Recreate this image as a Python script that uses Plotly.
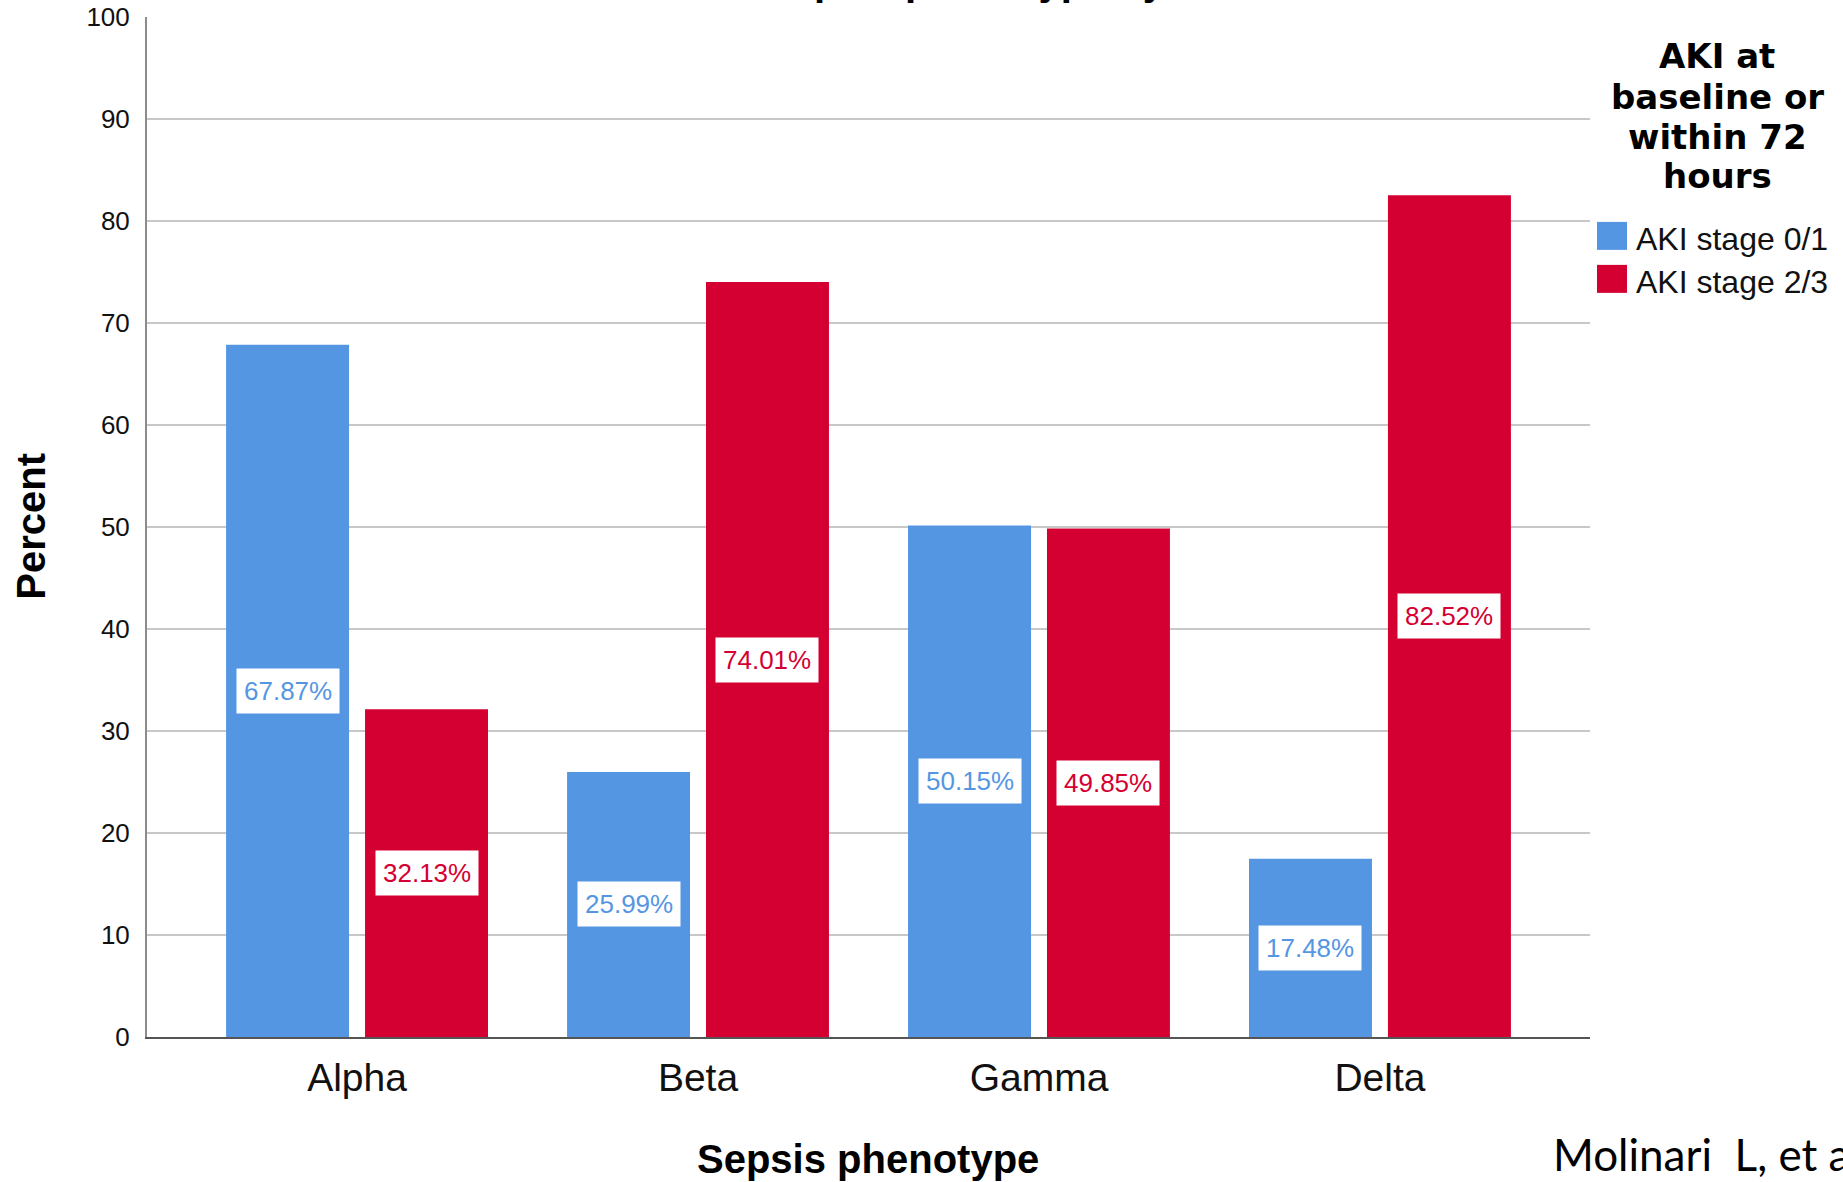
import plotly.graph_objects as go

# ---------------- data ----------------
categories = ["Alpha", "Beta", "Gamma", "Delta"]
series_names = ["AKI stage 0/1", "AKI stage 2/3"]
aki_stage_01 = [67.87, 25.99, 50.15, 17.48]
aki_stage_23 = [32.13, 74.01, 49.85, 82.52]
y_tick_values = [0, 10, 20, 30, 40, 50, 60, 70, 80, 90, 100]
legend_title_lines = ["AKI at", "baseline or", "within 72", "hours"]
x_title = "Sepsis phenotype"
y_title = "Percent"
chart_title = "Sepsis phenotype by AKI at baseline or within 72 hours"
citation = "Molinari\u00a0 L, et al."

# ---------------- style ----------------
COLORS = ["#5596E3", "#D50032"]
ARIAL = "Arial, Liberation Sans, sans-serif"
DEJAVU = "DejaVu Sans, sans-serif"
W, H = 1843, 1182
L, R, T, B = 147, 1590, 17, 1037.5
BARGAP, GROUPGAP = 0.185, 0.115
X_PAD = 0.616


def px(x):
    return (x - L) / (R - L)


def py(y):
    return (B - y) / (B - T)


series = [aki_stage_01, aki_stage_23]

fig = go.Figure()
for name, vals, col in zip(series_names, series, COLORS):
    fig.add_trace(go.Bar(
        x=categories, y=vals, name=name,
        marker=dict(color=col, line=dict(width=0)),
        showlegend=False,
        hovertemplate="%{x}: %{y:.2f}%<extra>" + name + "</extra>",
    ))

annotations = []
slot = (1 - BARGAP) / len(series)
for k, (vals, col) in enumerate(zip(series, COLORS)):
    off = (k - (len(series) - 1) / 2) * slot
    for i, v in enumerate(vals):
        annotations.append(dict(
            x=i + off, y=v / 2, xref="x", yref="y",
            text=f"{v:.2f}%", showarrow=False,
            font=dict(family=ARIAL, size=26, color=col),
            bgcolor="white", borderpad=7,
            xanchor="center", yanchor="middle",
        ))

# axis titles
annotations.append(dict(
    x=px(868), y=py(1173 - 0.3465 * 40), xref="paper", yref="paper",
    text=f"<b>{x_title}</b>", showarrow=False,
    font=dict(family=ARIAL, size=40, color="#000"),
    xanchor="center", yanchor="middle",
))
annotations.append(dict(
    x=px(31), y=py(527), xref="paper", yref="paper",
    text=f"<b>{y_title}</b>", showarrow=False, textangle=-90,
    font=dict(family=ARIAL, size=40, color="#000"),
    xanchor="center", yanchor="middle",
))
# chart title (cut off at the top edge of the image, only descenders visible)
annotations.append(dict(
    x=px(763), y=py(-5 - 0.3465 * 40), xref="paper", yref="paper",
    text=f"<b>{chart_title}</b>", showarrow=False,
    font=dict(family=ARIAL, size=40, color="#000"),
    xanchor="left", yanchor="middle",
))
# legend title
baselines = [68, 109, 149, 188]
for line, bl in zip(legend_title_lines, baselines):
    annotations.append(dict(
        x=px(1717), y=py(bl - 0.346 * 34), xref="paper", yref="paper",
        text=f"<b>{line}</b>", showarrow=False,
        font=dict(family=DEJAVU, size=34, color="#000"),
        xanchor="center", yanchor="middle",
    ))
# legend items
shapes = []
sw_tops = [222, 265]
for name, col, top in zip(series_names, COLORS, sw_tops):
    shapes.append(dict(
        type="rect", xref="paper", yref="paper",
        x0=px(1597), x1=px(1627), y0=py(top + 28), y1=py(top),
        fillcolor=col, line=dict(width=0),
    ))
    annotations.append(dict(
        x=px(1634), y=py(top + 28 - 0.3465 * 32), xref="paper", yref="paper",
        text=name, showarrow=False,
        font=dict(family=ARIAL, size=32, color="#111"),
        xanchor="left", yanchor="middle",
    ))
# citation (runs off the right edge, as in the reference)
annotations.append(dict(
    x=px(1551), y=py(1172 - 0.387 * 44), xref="paper", yref="paper",
    text=citation, showarrow=False,
    font=dict(family="Lato, sans-serif", size=44, color="#000"),
    xanchor="left", yanchor="middle",
))

fig.update_layout(
    width=W, height=H,
    margin=dict(l=L, r=W - R, t=T, b=H - B, pad=0, autoexpand=False),
    paper_bgcolor="white", plot_bgcolor="white",
    barmode="group", bargap=BARGAP, bargroupgap=GROUPGAP,
    showlegend=False,
    annotations=annotations, shapes=shapes,
    xaxis=dict(
        type="category", categoryorder="array", categoryarray=categories,
        range=[-X_PAD, len(categories) - 1 + X_PAD],
        automargin=False,
        showline=True, linecolor="#555555", linewidth=2,
        showgrid=False, ticks="", ticklabelstandoff=5,
        tickfont=dict(family=ARIAL, size=39, color="#111"),
    ),
    yaxis=dict(
        range=[0, 100], tickmode="array", tickvals=y_tick_values,
        automargin=False,
        showgrid=True, gridcolor="#C8C8C8", gridwidth=2,
        showline=True, linecolor="#8C8C8C", linewidth=2,
        zeroline=False, ticks="", ticklabelstandoff=10,
        tickfont=dict(family=ARIAL, size=26, color="#111"),
    ),
)

fig.write_html(
    "out.html",
    config=dict(displayModeBar=False),
    post_script="document.body.style.margin='0';document.body.style.overflow='hidden';",
)
